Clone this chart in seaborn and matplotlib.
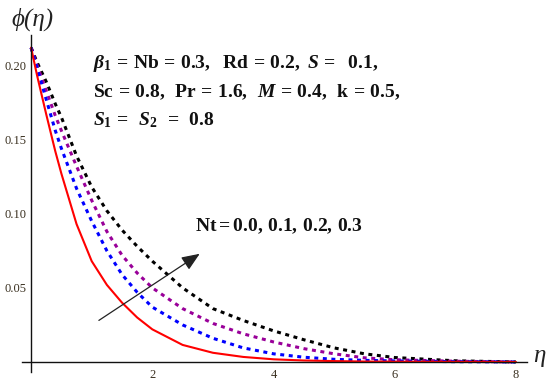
import numpy as np
import matplotlib
matplotlib.use('Agg')
import matplotlib.pyplot as plt
from matplotlib.ticker import MultipleLocator
import seaborn as sns
import pandas as pd

# values
eta = [0, 0.1, 0.25, 0.4, 0.5, 0.75, 1.0, 1.25, 1.5, 1.75, 2.0, 2.5, 3.0, 3.5, 4.0, 4.5, 5.0, 5.5, 6.0, 7.0, 8.0]
phi_nt00 = [0.212, 0.193, 0.167, 0.142, 0.127, 0.093, 0.068, 0.052, 0.040, 0.030, 0.022, 0.0115, 0.0062,
            0.0034, 0.0018, 0.0010, 0.0006, 0.0003, 0.0002, 0.0001, 0.0]
phi_nt01 = [0.212, 0.198, 0.177, 0.156, 0.144, 0.117, 0.095, 0.075, 0.059, 0.047, 0.037, 0.025, 0.016,
            0.0095, 0.0055, 0.0032, 0.0018, 0.0011, 0.0007, 0.0002, 0.0]
phi_nt02 = [0.212, 0.200, 0.183, 0.166, 0.156, 0.132, 0.109, 0.088, 0.072, 0.060, 0.050, 0.036, 0.026,
            0.019, 0.0135, 0.009, 0.0055, 0.0028, 0.0015, 0.0005, 0.0]
phi_nt03 = [0.212, 0.202, 0.189, 0.174, 0.165, 0.139, 0.118, 0.102, 0.089, 0.078, 0.068, 0.050, 0.036,
            0.028, 0.021, 0.015, 0.0095, 0.0055, 0.003, 0.0008, 0.0]
nt_labels = ['0.0', '0.1', '0.2', '0.3']

df = pd.DataFrame({'eta': eta * 4,
                   'phi': phi_nt00 + phi_nt01 + phi_nt02 + phi_nt03,
                   'Nt': sum([[n] * len(eta) for n in nt_labels], [])})

sns.set_style('white')
plt.rcParams['mathtext.fontset'] = 'custom'
plt.rcParams['mathtext.rm'] = 'Liberation Serif:bold'
plt.rcParams['mathtext.it'] = 'Liberation Serif:bold:italic'
plt.rcParams['mathtext.bf'] = 'Liberation Serif:bold'

fig = plt.figure(figsize=(5.5, 3.85), dpi=100)
ax = fig.add_axes([0.04, 0.034, 0.918, 0.875])

dot = (0, (1.3, 1.5))
styles = {'0.0': ('#ff0000', '-', 1.5),
          '0.1': ('#0000ff', dot, 2.2),
          '0.2': ('#990099', dot, 2.2),
          '0.3': ('#000000', dot, 2.2)}
for nt in nt_labels[::-1]:
    c, ls, lw = styles[nt]
    sub = df[df['Nt'] == nt]
    sns.lineplot(data=sub, x='eta', y='phi', color=c, linestyle=ls, linewidth=lw,
                 estimator=None, sort=False, ax=ax)

ax.set_xlim(-0.15, 8.18)
ax.set_ylim(-0.0067, 0.2205)
for s in ['top', 'right']:
    ax.spines[s].set_visible(False)
for s in ['left', 'bottom']:
    ax.spines[s].set_position(('data', 0))
    ax.spines[s].set_color('#111111')
    ax.spines[s].set_linewidth(1.0)

ax.set_xticks([2, 4, 6, 8])
ax.set_yticks([0.05, 0.10, 0.15, 0.20])
ax.set_yticklabels(['0.05', '0.10', '0.15', '0.20'])
ax.xaxis.set_minor_locator(MultipleLocator(0.5))
ax.yaxis.set_minor_locator(MultipleLocator(0.01))
ax.tick_params(which='both', direction='in', color='#111111', width=0.8,
               labelsize=9, labelcolor='#3a3020')
ax.tick_params(which='major', length=4.5)
ax.tick_params(which='minor', length=2.5)
ax.tick_params(axis='x', pad=5)
ax.tick_params(axis='y', pad=3)
for lab in ax.get_xticklabels() + ax.get_yticklabels():
    lab.set_fontfamily('Liberation Serif')
ax.set_xlabel('')
ax.set_ylabel('')

fig.text(0.02, 0.95, 'ϕ(η)', fontsize=18, color='#222222', va='center', ha='left',
         family=['Liberation Serif', 'DejaVu Serif'], style='italic')
fig.text(0.980, 0.075, 'η', fontsize=18, color='#222222', va='center', ha='center',
         family=['Liberation Serif', 'DejaVu Serif'], style='italic')

txt = [r'$\beta_1\,=\,\mathrm{Nb}\,=\,0.3,\ \ \mathrm{Rd}\,=\,0.2,\ S\,=\ \ 0.1,$',
       r'$\mathrm{Sc}\,=\,0.8,\ \,\mathrm{Pr}\,=\,1.6,\ \,M\,=\,0.4,\ \,\mathrm{k}\,=\,0.5,$',
       r'$S_1\,=\,\ S_2\ \,=\,\ 0.8$']
for i, t in enumerate(txt):
    fig.text(0.169, 1 - (64 + i * 28) / 385, t, fontsize=14, color='#111111',
             va='center', ha='left')

ax.text(2.70, 0.0915, r'$\mathrm{Nt}=0.0,\,0.1,\,0.2,\,0.3$', fontsize=14,
        color='#111111', va='center', ha='left')
ax.annotate('', xy=(2.82, 0.074), xytext=(1.08, 0.027),
            arrowprops=dict(arrowstyle='-|>,head_length=1.1,head_width=0.45',
                            color='#222222', lw=0.9))

fig.savefig('out.png', dpi=100)
